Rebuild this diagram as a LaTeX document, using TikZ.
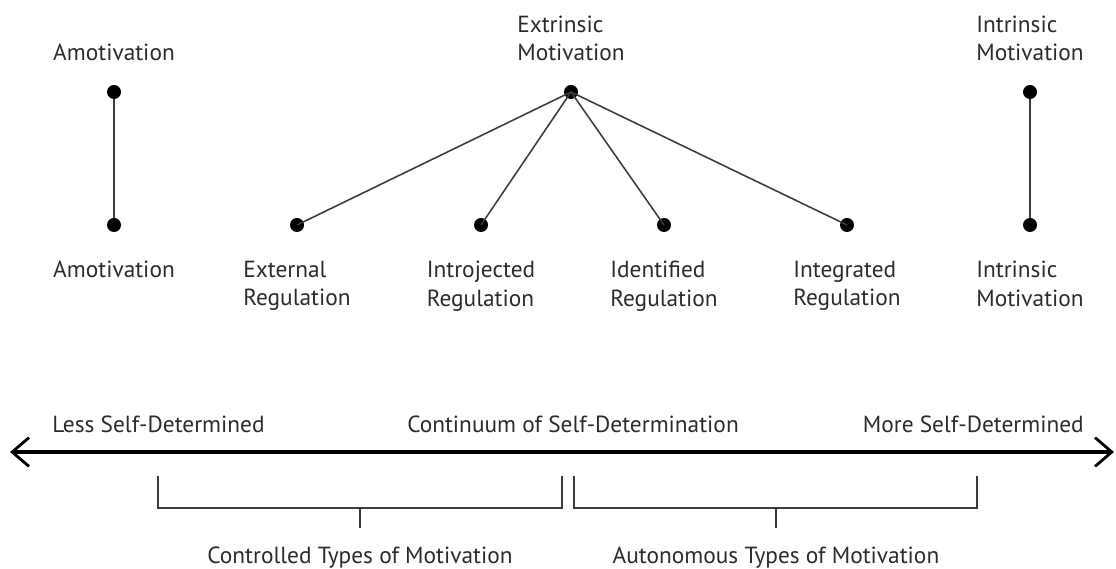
\documentclass[tikz,border=0pt]{standalone}
\usepackage{fontspec}
\setmainfont{PT Sans}
\usepackage{xcolor}
\usetikzlibrary{arrows.meta,positioning}
\definecolor{ink}{HTML}{2B2B2B}
\definecolor{linegray}{HTML}{3A3A3A}
\tikzset{
  dotnode/.style={
    circle, fill=black, inner sep=0pt, minimum size=0.35cm
  },
  toplabel/.style={
    font=\fontsize{16.6}{20}\selectfont, text=ink, align=left,
    inner sep=0pt
  },
  botlabel/.style={
    font=\fontsize{16.6}{20}\selectfont, text=ink, align=left,
    inner sep=0pt
  },
  axislabel/.style={
    font=\fontsize{16.6}{20}\selectfont, text=ink, inner sep=0pt
  },
  linkline/.style={
    line width=1.1pt, color=linegray
  },
  axisline/.style={
    {Straight Barb[length=0.42cm, width=0.72cm, line width=2pt]}-{Straight Barb[length=0.42cm, width=0.72cm, line width=2pt]},
    line width=2.2pt, color=black
  },
  bracket/.style={
    line width=1.2pt, color=linegray
  },
}
\begin{document}
\begin{tikzpicture}[x=0.025cm, y=-0.025cm]
  \useasboundingbox (0,0) rectangle (1116,569);
  % Top row
  \node[dotnode] (am1) at (114,92) {};
  \node[dotnode] (ex) at (571,92) {};
  \node[dotnode] (in1) at (1030,92) {};
  \node[toplabel, above=0.58cm of am1] {Amotivation};
  \node[toplabel, above=0.58cm of ex] {Extrinsic\\Motivation};
  \node[toplabel, above=0.58cm of in1] {Intrinsic\\Motivation};
  % Bottom row
  \node[dotnode] (am2) at (114,225) {};
  \node[dotnode] (ext) at (297,225) {};
  \node[dotnode] (intro) at (481,225) {};
  \node[dotnode] (ident) at (664,225) {};
  \node[dotnode] (integ) at (847,225) {};
  \node[dotnode] (in2) at (1030,225) {};
  \node[botlabel, below=0.72cm of am2] {Amotivation};
  \node[botlabel, below=0.72cm of ext] {External\\Regulation};
  \node[botlabel, below=0.72cm of intro] {Introjected\\Regulation};
  \node[botlabel, below=0.72cm of ident] {Identified\\Regulation};
  \node[botlabel, below=0.72cm of integ] {Integrated\\Regulation};
  \node[botlabel, below=0.72cm of in2] {Intrinsic\\Motivation};
  \draw[linkline] (am1) -- (am2);
  \draw[linkline] (in1) -- (in2);
  \foreach \t in {ext,intro,ident,integ}
    \draw[linkline] (ex.center) -- (\t.center);
  % Continuum
  \coordinate (lft) at (10,452);
  \coordinate (rgt) at (1114,452);
  \draw[axisline] (lft) -- (rgt);
  \node[axislabel, anchor=base west] (less) at (52,432) {Less Self-Determined};
  \node[axislabel, anchor=base] (cont) at (573,432) {Continuum of Self-Determination};
  \node[axislabel, anchor=base east] (more) at (1084,432) {More Self-Determined};
  % Brackets
  \draw[bracket] (158,476) |- (562,508) -- (562,476);
  \draw[bracket] (360,508) -- (360,528);
  \draw[bracket] (574,476) |- (977,508) -- (977,476);
  \draw[bracket] (776,508) -- (776,528);
  \node[axislabel, anchor=base] (ctrl) at (360,563) {Controlled Types of Motivation};
  \node[axislabel, anchor=base] (auto) at (776,563) {Autonomous Types of Motivation};
\end{tikzpicture}
\end{document}
